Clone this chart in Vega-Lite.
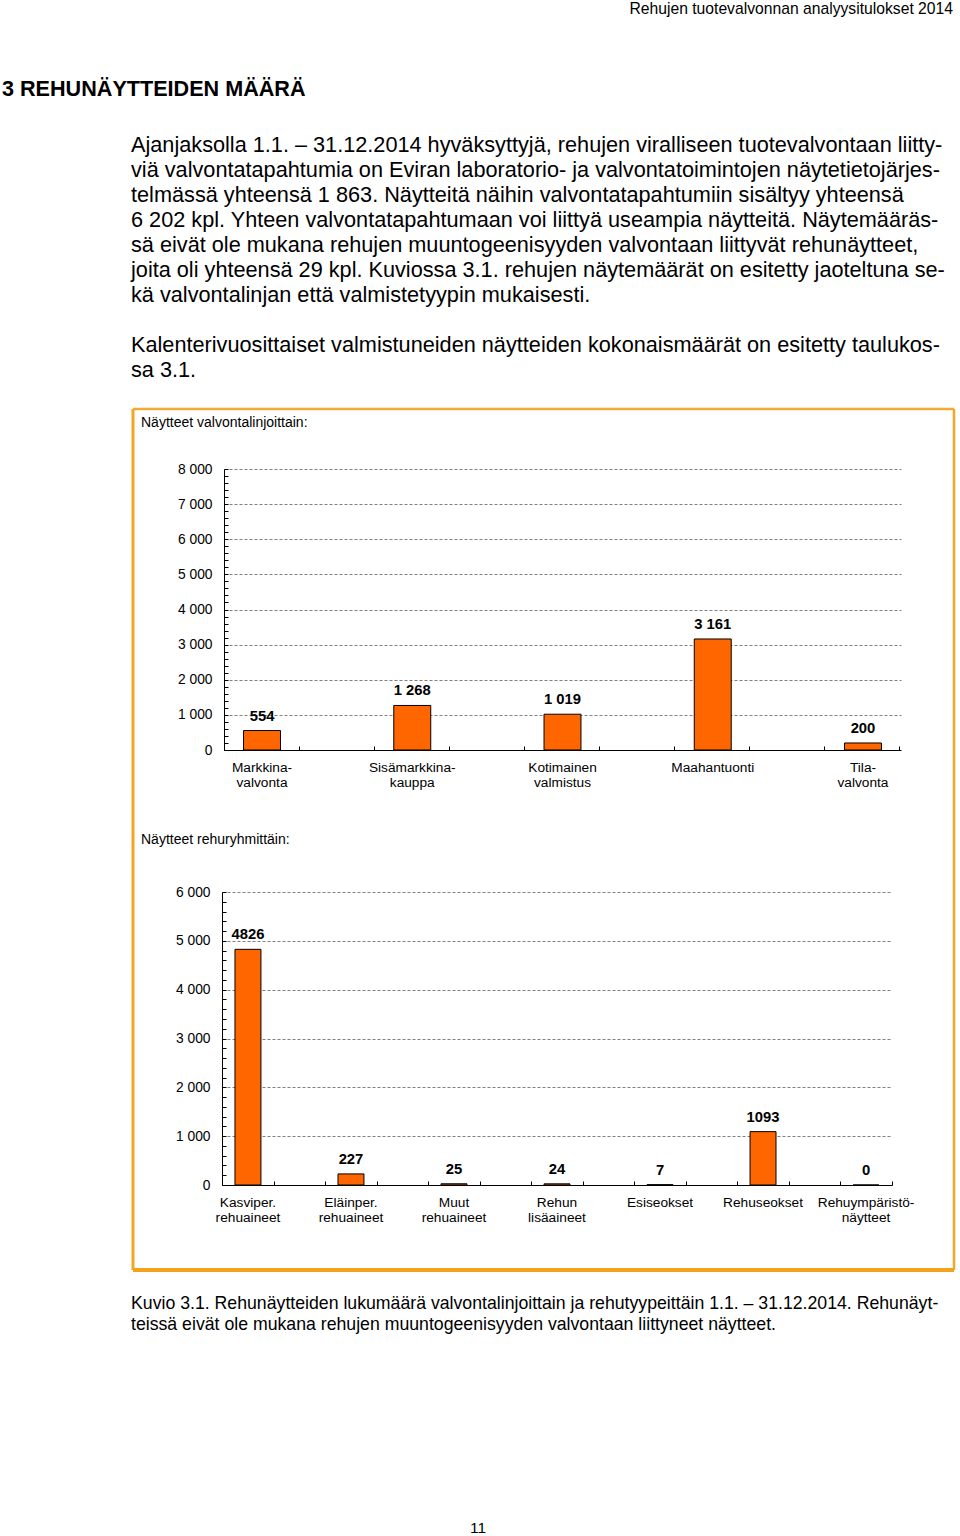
{
  "$schema": "https://vega.github.io/schema/vega-lite/v6.json",
  "background": "white",
  "padding": {"left": 2, "top": 1, "right": 0, "bottom": 0},
  "autosize": {"type": "pad"},
  "spacing": 0,
  "bounds": "flush",
  "datasets": {
    "valvonta": [
      {"linja": "Markkina-\nvalvonta", "n": 554},
      {"linja": "Sisämarkkina-\nkauppa", "n": 1268},
      {"linja": "Kotimainen\nvalmistus", "n": 1019},
      {"linja": "Maahantuonti", "n": 3161},
      {"linja": "Tila-\nvalvonta", "n": 200}
    ],
    "rehu": [
      {"ryhma": "Kasviper.\nrehuaineet", "n": 4826},
      {"ryhma": "Eläinper.\nrehuaineet", "n": 227},
      {"ryhma": "Muut\nrehuaineet", "n": 25},
      {"ryhma": "Rehun\nlisäaineet", "n": 24},
      {"ryhma": "Esiseokset", "n": 7},
      {"ryhma": "Rehuseokset", "n": 1093},
      {"ryhma": "Rehuympäristö-\nnäytteet", "n": 0}
    ]
  },
  "vconcat": [
    {
      "width": 821, "height": 83,
      "title": {"text": "Rehujen tuotevalvonnan analyysitulokset 2014", "anchor": "end", "frame": "group", "fontSize": 15.7, "dx": -1, "offset": 0},
      "data": {"values": [{}]},
      "mark": {"type": "text"},
      "encoding": {"text": {"value": ""}}
    },
    {
      "width": 821, "height": 206,
      "title": {"text": "3 REHUNÄYTTEIDEN MÄÄRÄ", "anchor": "start", "frame": "group", "fontSize": 21.6, "fontWeight": "bold", "dx": -131, "offset": 0},
      "data": {"values": [{}]},
      "mark": {"type": "text"},
      "encoding": {"text": {"value": ""}}
    },
    {
      "width": 821, "height": 75,
      "title": {
        "text": [
          "Ajanjaksolla 1.1. – 31.12.2014 hyväksyttyjä, rehujen viralliseen tuotevalvontaan liitty-",
          "viä valvontatapahtumia on Eviran laboratorio- ja valvontatoimintojen näytetietojärjes-",
          "telmässä yhteensä 1 863.  Näytteitä näihin valvontatapahtumiin sisältyy yhteensä",
          "6 202 kpl. Yhteen valvontatapahtumaan voi liittyä useampia näytteitä. Näytemääräs-",
          "sä eivät ole mukana rehujen muuntogeenisyyden valvontaan liittyvät rehunäytteet,",
          "joita oli yhteensä 29 kpl. Kuviossa 3.1. rehujen näytemäärät on esitetty jaoteltuna se-",
          "kä valvontalinjan että valmistetyypin mukaisesti."
        ],
        "anchor": "start", "frame": "group", "fontSize": 21.7, "lineHeight": 25, "dx": -2, "offset": 0
      },
      "data": {"values": [{}]},
      "mark": {"type": "text"},
      "encoding": {"text": {"value": ""}}
    },
    {
      "width": 821, "height": 27,
      "title": {
        "text": [
          "Kalenterivuosittaiset valmistuneiden näytteiden kokonaismäärät on esitetty taulukos-",
          "sa 3.1."
        ],
        "anchor": "start", "frame": "group", "fontSize": 21.7, "lineHeight": 25, "dx": -2, "offset": 0
      },
      "data": {"values": [{}]},
      "mark": {"type": "text"},
      "encoding": {"text": {"value": ""}}
    },
    {
      "width": 821, "height": 406,
      "title": {"text": "Näytteet valvontalinjoittain:", "anchor": "start", "frame": "group", "fontSize": 14, "dx": 8, "offset": -22},
      "data": {"name": "valvonta"},
      "resolve": {"scale": {"x": "independent"}, "axis": {"x": "independent"}},
      "layer": [
        {
          "layer": [
            {
              "mark": {"type": "bar", "fill": "#FF6600", "stroke": "#000000", "strokeWidth": 1},
              "encoding": {
                "x": {
                  "field": "linja", "type": "nominal", "sort": null,
                  "scale": {"range": [91, 768], "paddingInner": 0.754, "paddingOuter": 0.13},
                  "axis": {"orient": "bottom", "offset": -65, "title": null, "ticks": false, "labelAngle": 0, "labelExpr": "split(datum.label, '\\n')", "labelPadding": 10, "labelLineHeight": 15, "labelFontSize": 13.7, "labelLimit": 0, "domainColor": "#000000", "labelColor": "#000000", "grid": false}
                },
                "y": {
                  "field": "n", "type": "quantitative",
                  "scale": {"domain": [0, 8000], "range": [341, 60], "nice": false},
                  "axis": {"orient": "left", "offset": -91, "title": null, "tickCount": 100, "values": [0,200,400,600,800,1000,1200,1400,1600,1800,2000,2200,2400,2600,2800,3000,3200,3400,3600,3800,4000,4200,4400,4600,4800,5000,5200,5400,5600,5800,6000,6200,6400,6600,6800,7000,7200,7400,7600,7800,8000], "format": ",d", "labelExpr": "datum.value % 1000 === 0 ? datum.label : ''", "labelOverlap": false, "labelPadding": 16, "labelFontSize": 13.8, "labelColor": "#000000", "tickSize": -4, "tickColor": "#000000", "domainColor": "#000000", "grid": true, "gridColor": "#808080", "gridDash": [3, 2], "gridOpacity": {"condition": {"test": "datum.value % 1000 === 0 && datum.value > 0", "value": 1}, "value": 0}}
                }
              }
            },
            {
              "mark": {"type": "text", "fontWeight": "bold", "fontSize": 14.8, "dy": -10, "baseline": "alphabetic"},
              "encoding": {
                "x": {"field": "linja", "type": "nominal", "sort": null},
                "y": {"field": "n", "type": "quantitative"},
                "text": {"field": "n", "type": "quantitative", "format": ",d"}
              }
            }
          ]
        },
        {
          "data": {"values": [{}]},
          "mark": {"type": "point", "opacity": 0},
          "encoding": {
            "x": {
              "datum": 0, "type": "quantitative",
              "scale": {"domain": [0, 9], "range": [91, 766], "nice": false, "zero": false},
              "axis": {"orient": "bottom", "offset": -65, "title": null, "values": [0,1,2,3,4,5,6,7,8,9], "tickCount": 100, "labels": false, "domain": false, "grid": false, "ticks": true, "tickSize": -4, "tickColor": "#000000"}
            }
          }
        },
        {
          "data": {"values": [{}]},
          "mark": {"type": "rule", "stroke": "#F2AA35", "strokeWidth": 2.5},
          "encoding": {"x": {"value": 0}, "x2": {"value": "width"}, "y": {"value": 0}}
        },
        {
          "data": {"values": [{}]},
          "mark": {"type": "rule", "stroke": "#F5A623", "strokeWidth": 3},
          "encoding": {"x": {"value": 0}, "y": {"value": 0}, "y2": {"value": "height"}}
        },
        {
          "data": {"values": [{}]},
          "mark": {"type": "rule", "stroke": "#F5A623", "strokeWidth": 2.5},
          "encoding": {"x": {"value": "width"}, "y": {"value": 0}, "y2": {"value": "height"}}
        }
      ]
    },
    {
      "width": 821, "height": 455,
      "title": {"text": "Näytteet rehuryhmittäin:", "anchor": "start", "frame": "group", "fontSize": 14, "dx": 8, "offset": -33},
      "data": {"name": "rehu"},
      "resolve": {"scale": {"x": "independent"}, "axis": {"x": "independent"}},
      "layer": [
        {
          "layer": [
            {
              "mark": {"type": "bar", "fill": "#FF6600", "stroke": "#000000", "strokeWidth": 1},
              "encoding": {
                "x": {
                  "field": "ryhma", "type": "nominal", "sort": null,
                  "scale": {"range": [89, 759], "paddingInner": 0.748, "paddingOuter": 0.126},
                  "axis": {"orient": "bottom", "offset": -85, "title": null, "ticks": false, "labelAngle": 0, "labelExpr": "split(datum.label, '\\n')", "labelPadding": 10, "labelLineHeight": 15, "labelFontSize": 13.7, "labelLimit": 0, "domainColor": "#000000", "labelColor": "#000000", "grid": false}
                },
                "y": {
                  "field": "n", "type": "quantitative",
                  "scale": {"domain": [0, 6000], "range": [370, 77], "nice": false},
                  "axis": {"orient": "left", "offset": -89, "title": null, "tickCount": 100, "values": [0,200,400,600,800,1000,1200,1400,1600,1800,2000,2200,2400,2600,2800,3000,3200,3400,3600,3800,4000,4200,4400,4600,4800,5000,5200,5400,5600,5800,6000], "format": ",d", "labelExpr": "datum.value % 1000 === 0 ? datum.label : ''", "labelOverlap": false, "labelPadding": 16, "labelFontSize": 13.8, "labelColor": "#000000", "tickSize": -4, "tickColor": "#000000", "domainColor": "#000000", "grid": true, "gridColor": "#808080", "gridDash": [3, 2], "gridOpacity": {"condition": {"test": "datum.value % 1000 === 0 && datum.value > 0", "value": 1}, "value": 0}}
                }
              }
            },
            {
              "mark": {"type": "text", "fontWeight": "bold", "fontSize": 14.8, "dy": -10, "baseline": "alphabetic"},
              "encoding": {
                "x": {"field": "ryhma", "type": "nominal", "sort": null},
                "y": {"field": "n", "type": "quantitative"},
                "text": {"field": "n", "type": "quantitative", "format": "d"}
              }
            }
          ]
        },
        {
          "data": {"values": [{}]},
          "mark": {"type": "point", "opacity": 0},
          "encoding": {
            "x": {
              "datum": 0, "type": "quantitative",
              "scale": {"domain": [0, 13], "range": [89, 759], "nice": false, "zero": false},
              "axis": {"orient": "bottom", "offset": -85, "title": null, "values": [0,1,2,3,4,5,6,7,8,9,10,11,12,13], "tickCount": 100, "labels": false, "domain": false, "grid": false, "ticks": true, "tickSize": -4, "tickColor": "#000000"}
            }
          }
        },
        {
          "data": {"values": [{}]},
          "mark": {"type": "rule", "stroke": "#F5A623", "strokeWidth": 3},
          "encoding": {"x": {"value": 0}, "y": {"value": 0}, "y2": {"value": "height"}}
        },
        {
          "data": {"values": [{}]},
          "mark": {"type": "rule", "stroke": "#F5A623", "strokeWidth": 2.5},
          "encoding": {"x": {"value": "width"}, "y": {"value": 0}, "y2": {"value": "height"}}
        },
        {
          "data": {"values": [{}]},
          "mark": {"type": "rule", "stroke": "#F5A21B", "strokeWidth": 4},
          "encoding": {"x": {"value": 0}, "x2": {"value": "width"}, "y": {"value": "height"}}
        }
      ]
    },
    {
      "width": 821, "height": 25,
      "title": {
        "text": [
          "Kuvio 3.1. Rehunäytteiden lukumäärä valvontalinjoittain ja rehutyypeittäin 1.1. – 31.12.2014. Rehunäyt-",
          "teissä eivät ole mukana rehujen muuntogeenisyyden valvontaan liittyneet näytteet."
        ],
        "orient": "bottom", "anchor": "start", "frame": "group", "fontSize": 17.7, "lineHeight": 21, "dx": -2, "offset": 0
      },
      "data": {"values": [{}]},
      "mark": {"type": "text"},
      "encoding": {"text": {"value": ""}}
    },
    {
      "width": 821, "height": 226,
      "title": {"text": "11", "orient": "bottom", "anchor": "start", "frame": "group", "fontSize": 15.5, "dx": 337, "offset": 0},
      "data": {"values": [{}]},
      "mark": {"type": "text"},
      "encoding": {"text": {"value": ""}}
    }
  ],
  "config": {
    "view": {"stroke": null},
    "font": "Liberation Sans",
    "title": {"font": "Liberation Sans", "color": "#000000", "fontWeight": "normal", "subtitlePadding": 0},
    "axis": {"labelFont": "Liberation Sans"},
    "text": {"font": "Liberation Sans", "color": "#000000"},
    "locale": {"number": {"decimal": ",", "thousands": " ", "grouping": [3], "currency": ["", " €"]}}
  }
}
